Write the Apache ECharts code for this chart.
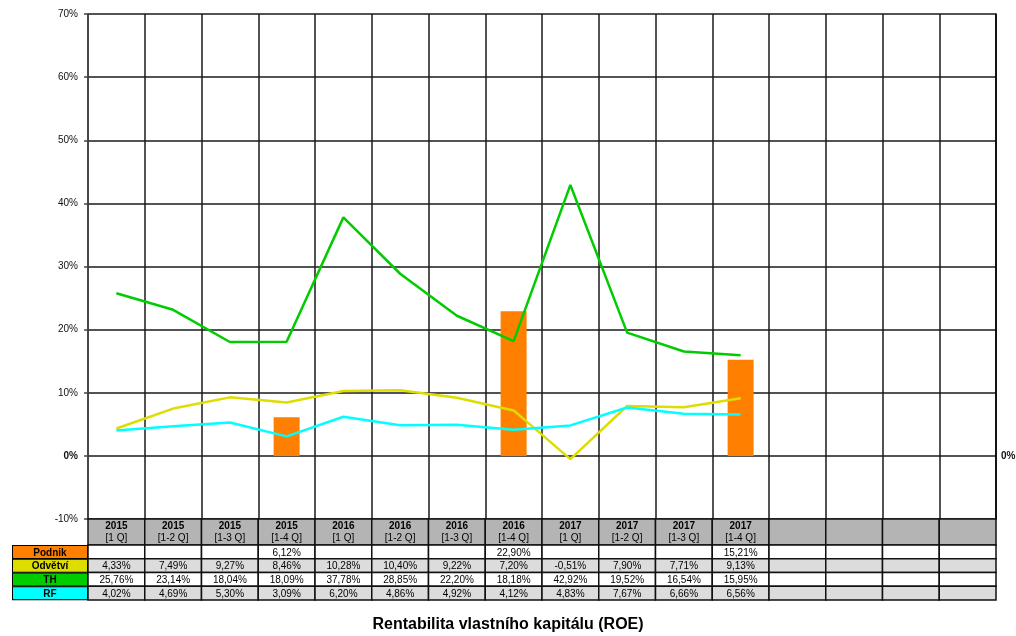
<!DOCTYPE html>
<html>
<head>
<meta charset="utf-8">
<script src="https://cdn.jsdelivr.net/npm/echarts@6/dist/echarts.min.js"></script>
<style>
html, body { margin: 0; padding: 0; background: #fff; }
#chart { width: 1016px; height: 636px; }
</style>
</head>
<body>
<div id="chart"></div>
<script>
// column headers (4 trailing columns are empty)
const years = ['2015', '2015', '2015', '2015', '2016', '2016', '2016', '2016', '2017', '2017', '2017', '2017', '', '', '', ''];
const periods = ['[1 Q]', '[1-2 Q]', '[1-3 Q]', '[1-4 Q]', '[1 Q]', '[1-2 Q]', '[1-3 Q]', '[1-4 Q]', '[1 Q]', '[1-2 Q]', '[1-3 Q]', '[1-4 Q]', '', '', '', ''];
const rowNames = ['Podnik', 'Odvětví', 'TH', 'RF'];
// values in %
const podnik = [null, null, null, 6.12, null, null, null, 22.90, null, null, null, 15.21];
const odvetvi = [4.33, 7.49, 9.27, 8.46, 10.28, 10.40, 9.22, 7.20, -0.51, 7.90, 7.71, 9.13];
const th = [25.76, 23.14, 18.04, 18.09, 37.78, 28.85, 22.20, 18.18, 42.92, 19.52, 16.54, 15.95];
const rf = [4.02, 4.69, 5.30, 3.09, 6.20, 4.86, 4.92, 4.12, 4.83, 7.67, 6.66, 6.56];
const yTicks = { min: -10, max: 70, interval: 10 };

const font = 'Liberation Sans, Arial, sans-serif';
const rowColors = ['#ff8000', '#dddd00', '#00cc00', '#00ffff'];
const cols = years.map((y, i) => i);
const pad = arr => cols.map(i => (arr[i] === undefined ? null : arr[i]));
const fmt = v => (v === null || v === undefined) ? '' : v.toFixed(2).replace('.', ',') + '%';

const rowsData = [podnik, odvetvi, th, rf].map(pad);
const tableCells = [];
const tableText = [];
rowsData.forEach((row, r) => {
	row.forEach((v, i) => {
		tableCells.push([i, r]);
		tableText.push(fmt(v));
	});
});
const headerCells = cols.map(i => [i, 0]);

const chart = echarts.init(document.getElementById('chart'));
chart.setOption({
	animation: false,
	textStyle: { fontFamily: font },
	title: {
		text: 'Rentabilita vlastního kapitálu (ROE)',
		left: 'center',
		top: 612,
		textStyle: { fontSize: 16, fontWeight: 'bold', color: '#000', fontFamily: font }
	},
	grid: [
		{ left: 88, right: 20, top: 14, height: 505, outerBoundsMode: 'none', containLabel: false },
		{ left: 88, right: 20, top: 519, height: 26, outerBoundsMode: 'none', containLabel: false },
		{ left: 88, right: 20, top: 545, height: 55, outerBoundsMode: 'none', containLabel: false }
	],
	xAxis: [{
		gridIndex: 0,
		type: 'category',
		data: cols,
		boundaryGap: true,
		axisLabel: { show: false },
		axisTick: { show: false },
		axisLine: { show: true, onZero: false, lineStyle: { color: '#000' } },
		splitLine: { show: true, interval: 0, lineStyle: { color: '#1a1a1a', width: 1.5 } }
	}, {
		gridIndex: 1,
		type: 'category',
		data: cols,
		show: false
	}, {
		gridIndex: 2,
		type: 'category',
		data: cols,
		show: false
	}],
	yAxis: [{
		gridIndex: 0,
		type: 'value',
		min: yTicks.min,
		max: yTicks.max,
		interval: yTicks.interval,
		axisLine: { show: true, lineStyle: { color: '#444', width: 1.5 } },
		axisTick: { show: true, length: 4, lineStyle: { color: '#444', width: 1.5 } },
		splitLine: { show: true, lineStyle: { color: '#1a1a1a', width: 1.5 } },
		axisLabel: {
			fontSize: 10,
			color: '#111',
			margin: 10,
			formatter: v => v === 0 ? '{b|0%}' : v + '%',
			rich: { b: { fontWeight: 'bold', fontSize: 10, color: '#111' } }
		}
	}, {
		gridIndex: 0,
		type: 'value',
		position: 'right',
		min: yTicks.min,
		max: yTicks.max,
		interval: yTicks.interval,
		axisLine: { show: true, lineStyle: { color: '#000', width: 1.5 } },
		axisTick: { show: false },
		splitLine: { show: false },
		axisLabel: {
			fontSize: 10,
			color: '#111',
			margin: 5,
			formatter: v => v === 0 ? '{b|0%}' : '',
			rich: { b: { fontWeight: 'bold', fontSize: 10, color: '#111' } }
		}
	}, {
		gridIndex: 1,
		type: 'category',
		data: ['h'],
		show: false
	}, {
		gridIndex: 2,
		type: 'category',
		data: rowNames,
		inverse: true,
		axisLine: { show: false },
		axisTick: { show: false },
		axisLabel: {
			interval: 0,
			margin: 1,
			formatter: (v, i) => '{r' + i + '|' + v + '}',
			rich: rowNames.reduce((o, n, i) => {
				o['r' + i] = {
					backgroundColor: rowColors[i],
					borderColor: '#000',
					borderWidth: 1,
					width: 74,
					height: 10,
					lineHeight: 10,
					padding: [2, 0, 0, 0],
					align: 'center',
					fontWeight: 'bold',
					fontSize: 10,
					color: '#000'
				};
				return o;
			}, {})
		}
	}],
	series: [{
		name: 'Podnik',
		type: 'bar',
		xAxisIndex: 0,
		yAxisIndex: 0,
		data: pad(podnik),
		barWidth: 26,
		itemStyle: { color: '#ff8000' }
	}, {
		name: 'Odvětví',
		type: 'line',
		xAxisIndex: 0,
		yAxisIndex: 0,
		data: pad(odvetvi),
		showSymbol: false,
		symbol: 'none',
		lineStyle: { color: '#dddd00', width: 2.5 }
	}, {
		name: 'TH',
		type: 'line',
		xAxisIndex: 0,
		yAxisIndex: 0,
		data: pad(th),
		showSymbol: false,
		symbol: 'none',
		lineStyle: { color: '#00cc00', width: 2.5 }
	}, {
		name: 'RF',
		type: 'line',
		xAxisIndex: 0,
		yAxisIndex: 0,
		data: pad(rf),
		showSymbol: false,
		symbol: 'none',
		lineStyle: { color: '#00ffff', width: 2.5 }
	}, {
		name: 'header',
		type: 'custom',
		xAxisIndex: 1,
		yAxisIndex: 2,
		data: headerCells,
		silent: true,
		renderItem: (params, api) => {
			const c = api.coord([api.value(0), api.value(1)]);
			const s = api.size([1, 1]);
			const i = params.dataIndex;
			return {
				type: 'group',
				children: [{
					type: 'rect',
					shape: { x: c[0] - s[0] / 2, y: c[1] - s[1] / 2, width: s[0], height: s[1] },
					style: { fill: '#b4b4b4', stroke: '#111', lineWidth: 1.5 }
				}, {
					type: 'text',
					style: {
						text: years[i] ? '{y|' + years[i] + '}\n{p|' + periods[i] + '}' : '',
						x: c[0],
						y: c[1],
						align: 'center',
						verticalAlign: 'middle',
						rich: {
							y: { fontWeight: 'bold', fontSize: 10, fontFamily: font, fill: '#000', lineHeight: 12, align: 'center' },
							p: { fontSize: 10, fontFamily: font, fill: '#000', lineHeight: 12, align: 'center' }
						}
					}
				}]
			};
		}
	}, {
		name: 'table',
		type: 'custom',
		xAxisIndex: 2,
		yAxisIndex: 3,
		data: tableCells,
		silent: true,
		renderItem: (params, api) => {
			const c = api.coord([api.value(0), api.value(1)]);
			const s = api.size([1, 1]);
			const r = api.value(1);
			return {
				type: 'group',
				children: [{
					type: 'rect',
					shape: { x: c[0] - s[0] / 2, y: c[1] - s[1] / 2, width: s[0], height: s[1] },
					style: { fill: r % 2 ? '#dcdcdc' : '#fff', stroke: '#111', lineWidth: 1.5 }
				}, {
					type: 'text',
					style: {
						text: tableText[params.dataIndex],
						x: c[0],
						y: c[1] + 1,
						align: 'center',
						verticalAlign: 'middle',
						fontSize: 10,
						fontFamily: font,
						fill: '#000'
					}
				}]
			};
		}
	}]
});
</script>
</body>
</html>
